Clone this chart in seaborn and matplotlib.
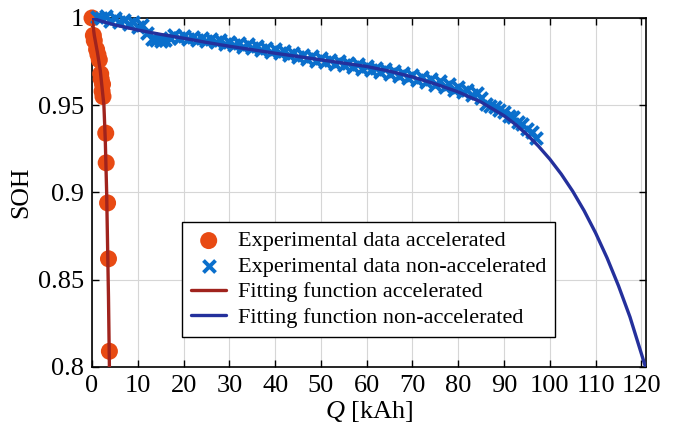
import matplotlib
matplotlib.use("Agg")
import matplotlib.pyplot as plt
import seaborn as sns
from matplotlib.ticker import FormatStrFormatter

# accelerated ageing test: measured points
q_acc = [0.0, 0.3, 0.5, 1.0, 1.3, 1.6, 1.9, 2.0, 2.2, 2.3, 2.4, 3.0, 3.1, 3.4, 3.6, 3.8]
soh_acc = [1.0, 0.990, 0.987, 0.982, 0.979, 0.976, 0.968, 0.965, 0.958, 0.962, 0.955,
           0.934, 0.917, 0.894, 0.862, 0.809]

# accelerated fitting function
q_acc_fit = [0.0, 0.5, 1.2, 1.8, 2.2, 2.6, 2.9, 3.2, 3.4, 3.6, 3.8]
soh_acc_fit = [1.0, 0.99, 0.98, 0.97, 0.96, 0.95, 0.93, 0.90, 0.87, 0.84, 0.80]

# non-accelerated test: measured points (one per kAh)
q_non = list(range(1, 98))
soh_non = [1.0008, 0.9998, 1.0010, 0.9985, 1.0002, 0.9978, 0.9990, 0.9968, 0.9975, 0.9950,
           0.9958, 0.9912, 0.9880, 0.9874, 0.9870, 0.9876, 0.9884, 0.9902, 0.9884, 0.9898,
           0.9880, 0.9893, 0.9874, 0.9888, 0.9868, 0.9880, 0.9860, 0.9872, 0.9852, 0.9864,
           0.9843, 0.9856, 0.9836, 0.9848, 0.9826, 0.9838, 0.9816, 0.9830, 0.9806, 0.9820,
           0.9798, 0.9810, 0.9786, 0.9800, 0.9776, 0.9790, 0.9766, 0.9780, 0.9756, 0.9770,
           0.9748, 0.9760, 0.9738, 0.9752, 0.9728, 0.9744, 0.9718, 0.9734, 0.9708, 0.9726,
           0.9700, 0.9716, 0.9690, 0.9706, 0.9680, 0.9696, 0.9668, 0.9684, 0.9656, 0.9672,
           0.9646, 0.9660, 0.9632, 0.9648, 0.9618, 0.9636, 0.9604, 0.9620, 0.9590, 0.9602,
           0.9574, 0.9586, 0.9558, 0.9570, 0.9540, 0.9508, 0.9496, 0.9490, 0.9472, 0.9462,
           0.9440, 0.9430, 0.9405, 0.9392, 0.9362, 0.9345, 0.9312]

# non-accelerated fitting function
q_non_fit = [0, 2, 5, 10, 15, 20, 25, 30, 35, 40, 45, 50, 55, 60, 65, 70, 75, 80, 85,
             90, 92.5, 95, 97.5, 100, 102.5, 105, 107.5, 110, 112.5, 115, 117.5, 120.9]
soh_non_fit = [1.0, 0.9982, 0.9960, 0.9931, 0.9906, 0.9884, 0.9860, 0.9838, 0.9818, 0.9798,
               0.9779, 0.9760, 0.9741, 0.9722, 0.9695, 0.9662, 0.9622, 0.9576, 0.9518,
               0.9440, 0.9390, 0.9332, 0.9266, 0.9191, 0.9105, 0.9007, 0.8895, 0.8768,
               0.8625, 0.8465, 0.8287, 0.8000]

x_ticks = list(range(0, 121, 10))
y_ticks = [0.8, 0.85, 0.9, 0.95, 1.0]

sns.set_style("ticks")
plt.rcParams['font.family'] = ['Liberation Serif', 'DejaVu Serif']
plt.rcParams['mathtext.fontset'] = 'custom'
plt.rcParams['mathtext.rm'] = 'Liberation Serif'
plt.rcParams['mathtext.it'] = 'Liberation Serif:italic'
for key in ['text.color', 'axes.labelcolor', 'xtick.color', 'ytick.color']:
    plt.rcParams[key] = 'black'

fig = plt.figure(figsize=(6.75, 4.32), dpi=100)
ax = fig.add_axes([0.1363, 0.1505, 0.8207, 0.8079])

c_acc = '#E84A13'
c_non = '#0A6FCC'
c_acc_fit = '#A0231D'
c_non_fit = '#24309C'

sns.scatterplot(x=q_acc, y=soh_acc, ax=ax, color=c_acc, s=150, edgecolor='none',
                label='Experimental data accelerated', clip_on=False, zorder=3)
sns.scatterplot(x=q_non, y=soh_non, ax=ax, color=c_non, marker='x', s=75, linewidth=2.8,
                label='Experimental data non-accelerated', clip_on=False, zorder=3)
sns.lineplot(x=q_acc_fit, y=soh_acc_fit, ax=ax, color=c_acc_fit, lw=2.4, sort=False,
             label='Fitting function accelerated', zorder=4)
sns.lineplot(x=q_non_fit, y=soh_non_fit, ax=ax, color=c_non_fit, lw=2.4, sort=False,
             label='Fitting function non-accelerated', zorder=4)

ax.set_xlim(0, 121)
ax.set_ylim(0.8, 1.0)
ax.set_xticks(x_ticks)
ax.set_yticks(y_ticks)
ax.yaxis.set_major_formatter(FormatStrFormatter('%g'))
ax.grid(True, color='#d6d6d6', lw=0.8)
ax.set_axisbelow(True)
ax.tick_params(direction='in', top=True, right=True, labelsize=19, length=5, width=1, pad=6)
for sp in ax.spines.values():
    sp.set_linewidth(1.2)
    sp.set_color('black')

ax.set_xlabel('$Q$ [kAh]', fontsize=19, labelpad=1)
ax.set_ylabel('SOH', fontsize=18.5, labelpad=4)

leg = ax.legend(loc='upper left', bbox_to_anchor=(0.1625, 0.4155), fontsize=16,
                frameon=True, fancybox=False, edgecolor='black', framealpha=1,
                borderpad=0.4, labelspacing=0.22, handlelength=1.6, handletextpad=0.5,
                borderaxespad=0)
leg.get_frame().set_linewidth(1.0)

fig.savefig('out.png', dpi=100)
